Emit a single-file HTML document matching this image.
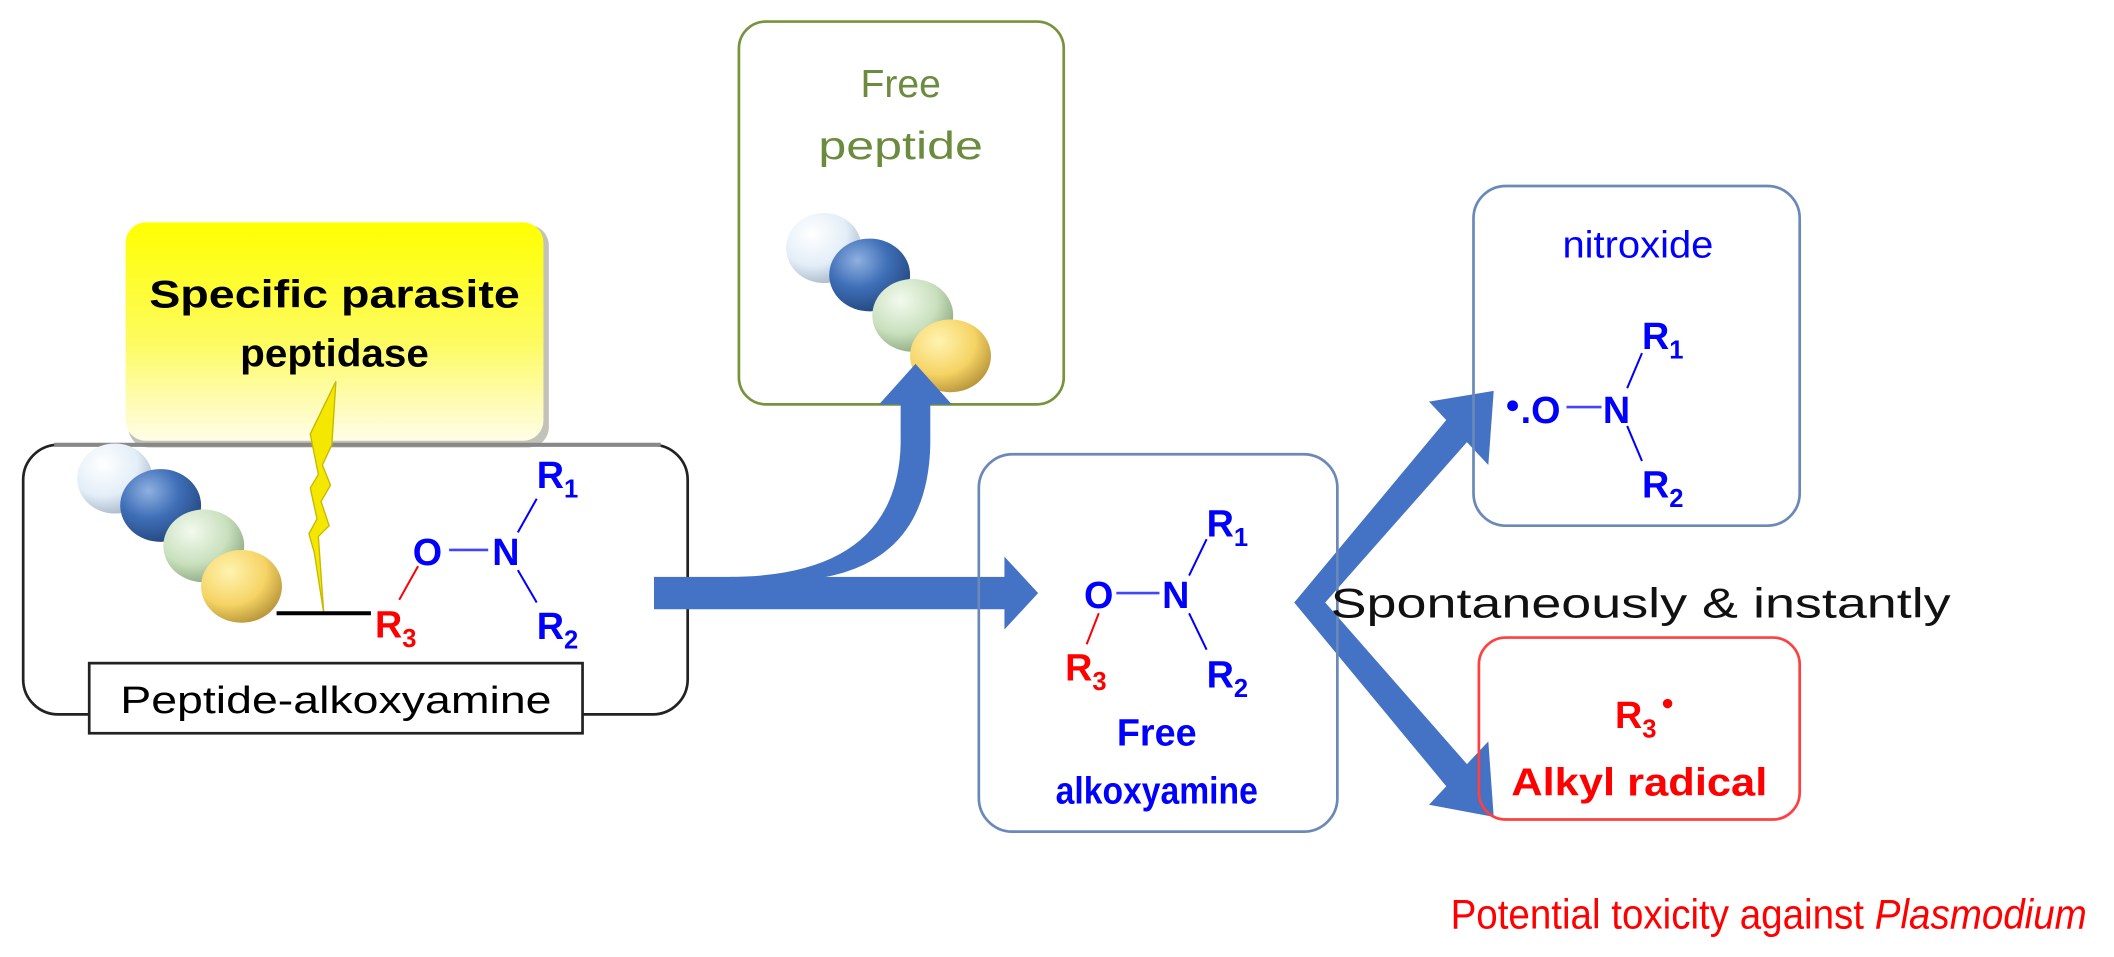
<!DOCTYPE html>
<html><head><meta charset="utf-8"><style>
html,body{margin:0;padding:0;background:#fff;}
svg{display:block;}
text{font-family:"Liberation Sans",sans-serif;}
</style></head><body>
<svg width="2114" height="957" viewBox="0 0 1568 710" xmlns="http://www.w3.org/2000/svg">
<defs>
<linearGradient id="yel" x1="0" y1="0" x2="0" y2="1">
<stop offset="0" stop-color="#ffff00"/><stop offset="0.55" stop-color="#fdfb60"/><stop offset="1" stop-color="#fffde8"/></linearGradient>
<radialGradient id="bW" cx="0.35" cy="0.3" r="0.75"><stop offset="0" stop-color="#ffffff"/><stop offset="0.6" stop-color="#e3eef8"/><stop offset="1" stop-color="#a8b8c8"/></radialGradient>
<radialGradient id="bB" cx="0.35" cy="0.3" r="0.75"><stop offset="0" stop-color="#8fb0e0"/><stop offset="0.5" stop-color="#3f6fb8"/><stop offset="1" stop-color="#24477e"/></radialGradient>
<radialGradient id="bG" cx="0.35" cy="0.3" r="0.75"><stop offset="0" stop-color="#f2faee"/><stop offset="0.6" stop-color="#c9e0bd"/><stop offset="1" stop-color="#8da882"/></radialGradient>
<radialGradient id="bY" cx="0.35" cy="0.3" r="0.75"><stop offset="0" stop-color="#fff3b0"/><stop offset="0.6" stop-color="#f6d465"/><stop offset="1" stop-color="#b8953a"/></radialGradient>
<g id="beads">
<ellipse cx="0" cy="0" rx="28" ry="26" fill="url(#bW)"/>
<ellipse cx="34" cy="20" rx="30" ry="27" fill="url(#bB)"/>
<ellipse cx="66" cy="50" rx="30" ry="27" fill="url(#bG)"/>
<ellipse cx="94" cy="80" rx="30" ry="27" fill="url(#bY)"/>
</g>
</defs>

<!-- yellow box -->
<rect x="95" y="167" width="312" height="165" rx="15" fill="#9a9a8a" opacity="0.6"/>
<rect x="93" y="165" width="310" height="162" rx="15" fill="url(#yel)"/>
<text x="248" y="228" font-size="29" font-weight="bold" text-anchor="middle" textLength="275" lengthAdjust="spacingAndGlyphs">Specific parasite</text>
<text x="248" y="272" font-size="29" font-weight="bold" text-anchor="middle" textLength="140" lengthAdjust="spacingAndGlyphs">peptidase</text>

<!-- left box -->
<rect x="17" y="330" width="493" height="200" rx="26" fill="none" stroke="#222" stroke-width="2"/>
<line x1="40" y1="330" x2="490" y2="330" stroke="#888" stroke-width="3"/>
<!-- lightning -->
<polygon points="249,283 246,330 239,345 245,360 238,372 244,390 236,398 240,455 233,410 229,396 235,385 230,362 236,352 230,322" fill="#f4e800" stroke="#c8b800" stroke-width="1"/>
<use href="#beads" x="85" y="355"/>
<line x1="205" y1="455" x2="275" y2="455" stroke="#000" stroke-width="3"/>
<text x="278" y="473" font-size="28" font-weight="bold" fill="#ff0000">R<tspan font-size="19" dy="7">3</tspan></text>
<line x1="296" y1="445" x2="310" y2="420" stroke="#ff0000" stroke-width="1.5"/>
<text x="306" y="419" font-size="28" font-weight="bold" fill="#0000ff">O</text>
<line x1="333" y1="408" x2="362" y2="408" stroke="#4444ff" stroke-width="2"/>
<text x="365" y="419" font-size="28" font-weight="bold" fill="#0000ff">N</text>
<line x1="384" y1="395" x2="398" y2="370" stroke="#0000ff" stroke-width="1.5"/>
<line x1="384" y1="423" x2="398" y2="447" stroke="#0000ff" stroke-width="1.5"/>
<text x="398" y="362" font-size="28" font-weight="bold" fill="#0000ff">R<tspan font-size="19" dy="7">1</tspan></text>
<text x="398" y="474" font-size="28" font-weight="bold" fill="#0000ff">R<tspan font-size="19" dy="7">2</tspan></text>
<rect x="66" y="492" width="366" height="52" fill="#fff" stroke="#222" stroke-width="2"/>
<text x="249" y="529" font-size="28" text-anchor="middle" textLength="320" lengthAdjust="spacingAndGlyphs">Peptide-alkoxyamine</text>

<!-- green box -->
<rect x="548" y="16" width="241" height="284" rx="20" fill="none" stroke="#77933c" stroke-width="2"/>
<text x="668" y="72" font-size="29" fill="#6b8b3e" text-anchor="middle">Free</text>
<text x="668" y="118" font-size="29" fill="#6b8b3e" text-anchor="middle" textLength="122" lengthAdjust="spacingAndGlyphs">peptide</text>
<use href="#beads" x="611" y="184"/>

<!-- arrows -->
<g fill="#4472c4">
<rect x="485" y="428" width="265" height="24"/>
<polygon points="745,413 770,440 745,467"/>
<path d="M540,428 Q665,428 668,330 L668,298 L690,298 L690,330 Q688,420 600,430 Z"/>
<polygon points="652,300 679,270 706,300"/>
<!-- chevron -->
<polygon points="960,447 1080,303 1097,318 983,447 1097,577 1080,592"/>
<polygon points="1060,298 1108,290 1104,345"/>
<polygon points="1060,597 1108,606 1104,550"/>
</g>

<!-- free alkoxyamine box -->
<rect x="726" y="337" width="266" height="280" rx="25" fill="none" stroke="#6a88b8" stroke-width="2"/>
<text x="804" y="451" font-size="28" font-weight="bold" fill="#0000ff">O</text>
<line x1="828" y1="440" x2="860" y2="440" stroke="#4444ff" stroke-width="2"/>
<text x="862" y="451" font-size="28" font-weight="bold" fill="#0000ff">N</text>
<line x1="882" y1="427" x2="895" y2="400" stroke="#0000ff" stroke-width="1.5"/>
<line x1="882" y1="455" x2="895" y2="482" stroke="#0000ff" stroke-width="1.5"/>
<text x="895" y="398" font-size="28" font-weight="bold" fill="#0000ff">R<tspan font-size="19" dy="7">1</tspan></text>
<text x="895" y="510" font-size="28" font-weight="bold" fill="#0000ff">R<tspan font-size="19" dy="7">2</tspan></text>
<line x1="815" y1="455" x2="806" y2="478" stroke="#ff0000" stroke-width="1.5"/>
<text x="790" y="505" font-size="28" font-weight="bold" fill="#ff0000">R<tspan font-size="19" dy="7">3</tspan></text>
<text x="858" y="553" font-size="28" font-weight="bold" fill="#0000ff" text-anchor="middle">Free</text>
<text x="858" y="596" font-size="28" font-weight="bold" fill="#0000ff" text-anchor="middle" textLength="150" lengthAdjust="spacingAndGlyphs">alkoxyamine</text>

<!-- nitroxide box -->
<rect x="1093" y="138" width="242" height="252" rx="24" fill="none" stroke="#6a88b8" stroke-width="2"/>
<text x="1215" y="191" font-size="28" fill="#0000ff" text-anchor="middle" textLength="112" lengthAdjust="spacingAndGlyphs">nitroxide</text>
<circle cx="1122" cy="301" r="4" fill="#0000ff"/>
<text x="1128" y="314" font-size="28" font-weight="bold" fill="#0000ff">.O</text>
<line x1="1162" y1="302" x2="1188" y2="302" stroke="#4444ff" stroke-width="2"/>
<text x="1189" y="314" font-size="28" font-weight="bold" fill="#0000ff">N</text>
<line x1="1207" y1="288" x2="1218" y2="262" stroke="#0000ff" stroke-width="1.5"/>
<line x1="1207" y1="316" x2="1218" y2="342" stroke="#0000ff" stroke-width="1.5"/>
<text x="1218" y="259" font-size="28" font-weight="bold" fill="#0000ff">R<tspan font-size="19" dy="7">1</tspan></text>
<text x="1218" y="369" font-size="28" font-weight="bold" fill="#0000ff">R<tspan font-size="19" dy="7">2</tspan></text>

<text x="987" y="458" font-size="31" fill="#111" textLength="460" lengthAdjust="spacingAndGlyphs">Spontaneously &amp; instantly</text>

<!-- red box -->
<rect x="1097" y="473" width="238" height="135" rx="20" fill="none" stroke="#ff4040" stroke-width="2"/>
<text x="1198" y="540" font-size="28" font-weight="bold" fill="#ff0000">R<tspan font-size="19" dy="7">3</tspan></text>
<circle cx="1237" cy="522" r="3.5" fill="#ff0000"/>
<text x="1216" y="590" font-size="29" font-weight="bold" fill="#ff0000" text-anchor="middle" textLength="190" lengthAdjust="spacingAndGlyphs">Alkyl radical</text>

<text x="1076" y="689" font-size="31" fill="#ff0000" textLength="472" lengthAdjust="spacingAndGlyphs">Potential toxicity against <tspan font-style="italic">Plasmodium</tspan></text>
</svg>
</body></html>
